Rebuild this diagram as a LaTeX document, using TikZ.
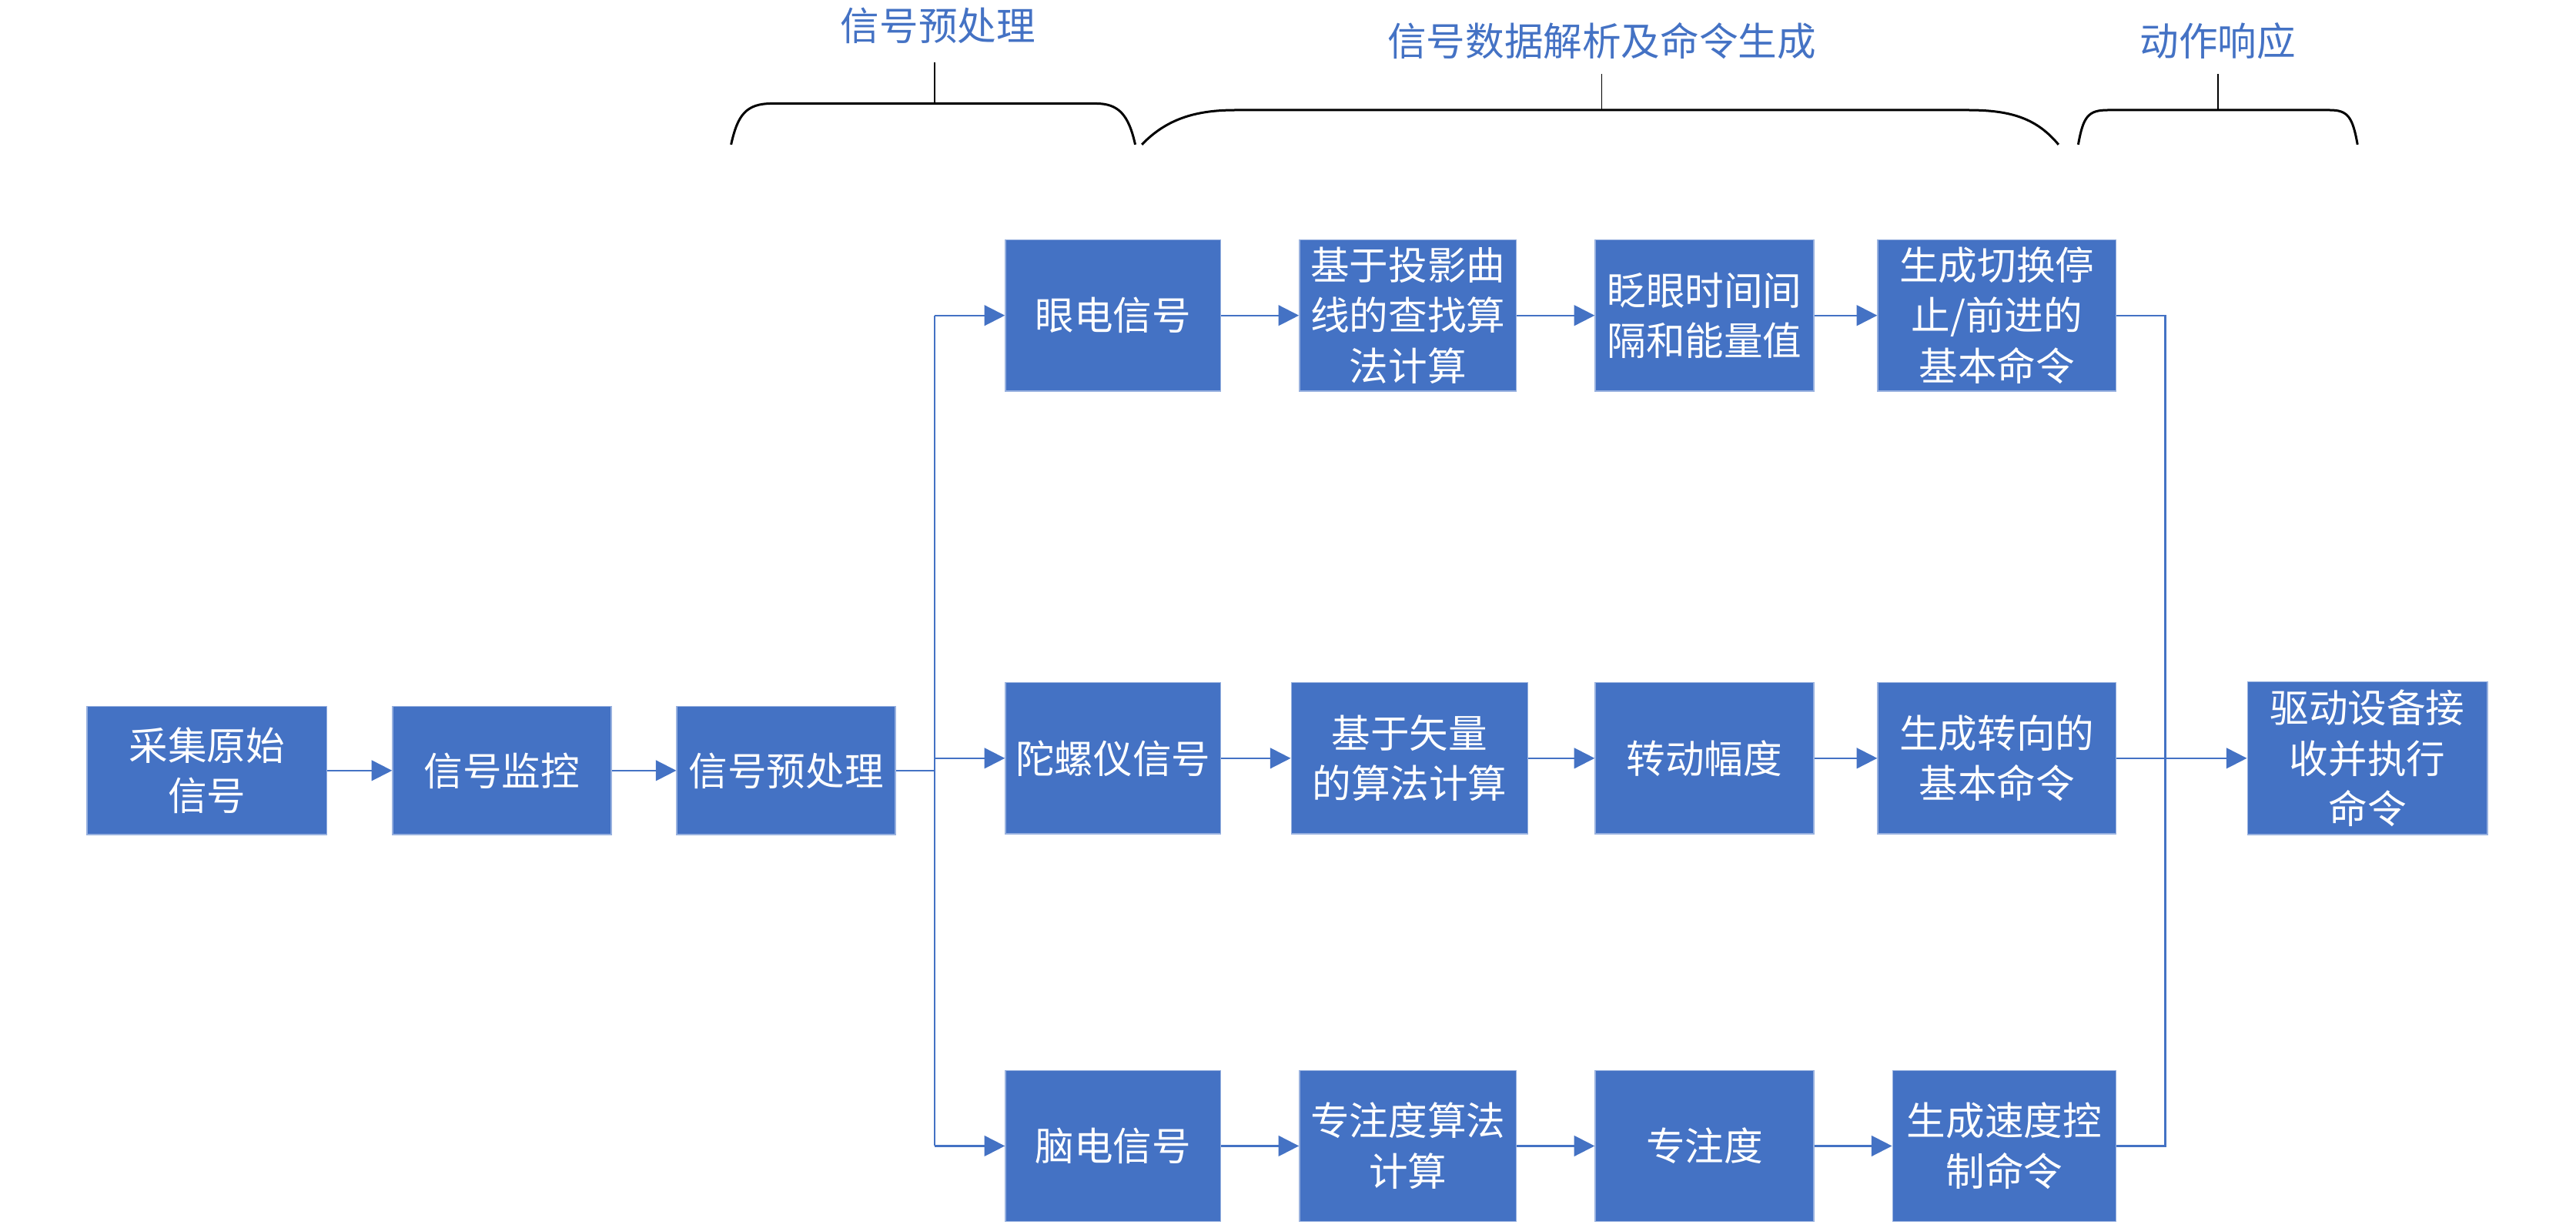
\documentclass[tikz,border=0pt]{standalone}
\usepackage{fontspec}
\newfontfamily\cjk{Noto Sans CJK SC}
\usepackage{tikz}
\usetikzlibrary{arrows.meta}
\definecolor{boxblue}{HTML}{4472C4}

\begin{document}
\begin{tikzpicture}[line width=0.6pt, font=\cjk\fontsize{13.5}{17.5}\selectfont,
  box/.style={fill=boxblue, draw=boxblue!55!white, line width=0.4pt, text=white, align=center, inner sep=1pt, minimum height=1.84cm, minimum width=2.66cm},
  low/.style={box, minimum height=1.56cm},
  link/.style={draw=boxblue, -{Triangle[length=0.25cm, width=0.25cm]}},
  wire/.style={draw=boxblue},
  brace/.style={draw=black, line width=0.8pt},
  stage/.style={text=boxblue}]
  \useasboundingbox (0, 0) rectangle (31.36, -14.94);
  \node[low, minimum width=2.92cm] (raw) at (2.52, -9.38) {采集原始\\信号};
  \node[low] (mon) at (6.11, -9.38) {信号监控};
  \node[low] (pre) at (9.57, -9.38) {信号预处理};
  \node[box, minimum width=2.62cm] (eog) at (13.55, -3.84) {眼电信号};
  \node[box, minimum width=2.64cm] (proj) at (17.14, -3.84) {基于投影曲\\线的查找算\\法计算};
  \node[box] (blink) at (20.75, -3.84) {眨眼时间间\\隔和能量值};
  \node[box, minimum width=2.9cm] (stop) at (24.31, -3.84) {生成切换停\\止/前进的\\基本命令};
  \node[box, minimum width=2.62cm] (gyro) at (13.55, -9.23) {陀螺仪信号};
  \node[box, minimum width=2.88cm] (vec) at (17.16, -9.23) {基于矢量\\的算法计算};
  \node[box] (turn) at (20.75, -9.23) {转动幅度};
  \node[box, minimum width=2.9cm] (steer) at (24.31, -9.23) {生成转向的\\基本命令};
  \node[box, minimum width=2.62cm] (eeg) at (13.55, -13.95) {脑电信号};
  \node[box, minimum width=2.64cm] (att) at (17.14, -13.95) {专注度算法\\计算};
  \node[box] (focus) at (20.75, -13.95) {专注度};
  \node[box, minimum width=2.72cm] (speed) at (24.4, -13.95) {生成速度控\\制命令};
  \node[box, minimum width=2.92cm, minimum height=1.86cm] (drive) at (28.82, -9.23) {驱动设备接\\收并执行\\命令};
  \coordinate (sp) at (11.38, -9.38);
  \coordinate (mg) at (26.36, -9.23);
  \draw[link] (raw) -- (mon);
  \draw[link] (mon) -- (pre);
  \draw[wire] (pre) -- (sp);
  \draw[wire] (sp |- eog.west) -- (sp |- eeg.west);
  \draw[link] (sp |- eog.west) -- (eog);
  \draw[link] (sp |- gyro.west) -- (gyro);
  \draw[link] (sp |- eeg.west) -- (eeg);
  \draw[link] (eog) -- (proj);
  \draw[link] (proj) -- (blink);
  \draw[link] (blink) -- (stop);
  \draw[link] (gyro) -- (vec);
  \draw[link] (vec) -- (turn);
  \draw[link] (turn) -- (steer);
  \draw[link] (eeg) -- (att);
  \draw[link] (att) -- (focus);
  \draw[link] (focus) -- (speed);
  \draw[wire] (stop.east) -- (mg |- stop.east) -- (mg |- speed.east) -- (speed.east);
  \draw[link] (steer) -- (drive);
  \draw[brace] (8.9, -1.76) .. controls (8.98, -1.4) and (9.08, -1.26) .. (9.4, -1.26)
    -- (13.34, -1.26) .. controls (13.62, -1.26) and (13.74, -1.4) .. (13.82, -1.76);
  \draw[brace] (13.9, -1.76) .. controls (14.2, -1.45) and (14.55, -1.34) .. (15.04, -1.34)
    -- (23.96, -1.34) .. controls (24.5, -1.34) and (24.8, -1.45) .. (25.06, -1.76);
  \draw[brace] (25.3, -1.76) .. controls (25.36, -1.42) and (25.42, -1.34) .. (25.66, -1.34)
    -- (28.36, -1.34) .. controls (28.58, -1.34) and (28.64, -1.42) .. (28.7, -1.76);
  \node[stage] (t1) at (11.42, -0.31) {信号预处理};
  \node[stage] (t2) at (19.5, -0.5) {信号数据解析及命令生成};
  \node[stage] (t3) at (27.0, -0.5) {动作响应};
  \draw[line width=0.4pt] (11.38, -1.26) -- (11.38, -0.76);
  \draw[line width=0.4pt] (19.5, -1.34) -- (19.5, -0.9);
  \draw[line width=0.4pt] (27.0, -1.34) -- (27.0, -0.9);
\end{tikzpicture}
\end{document}
